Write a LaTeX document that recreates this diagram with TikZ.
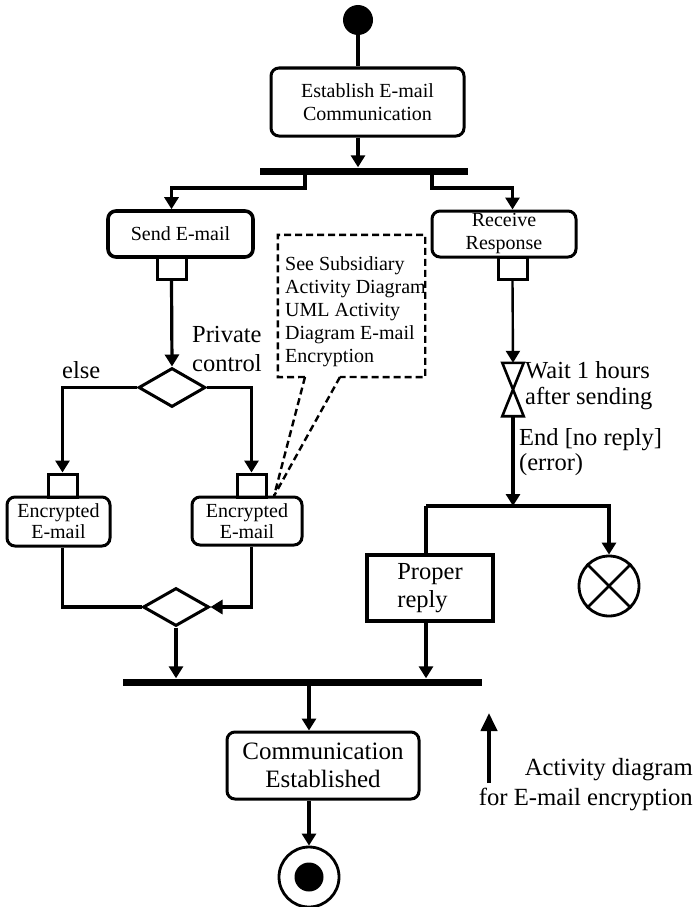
\documentclass[tikz,border=0pt]{standalone}
\usepackage{fontspec}
\setmainfont{Liberation Serif}
\usetikzlibrary{shapes.geometric,arrows.meta}
\begin{document}
\begin{tikzpicture}[x=1pt,y=-1pt,
  tip/.style={-{Triangle[width=14pt,length=12pt]}},
  flow/.style={line width=3.2pt,tip},
  plain/.style={line width=3.2pt},
  action/.style={draw,line width=3pt,rounded corners=8pt,inner sep=0pt},
  pinbox/.style={draw,line width=3pt,minimum width=29pt,minimum height=22pt,inner sep=0pt},
  bar/.style={fill=black,inner sep=0pt,minimum height=7pt},
  txtS/.style={font=\fontsize{20}{23}\selectfont},
  txtB/.style={font=\fontsize{24.5}{28}\selectfont},
  decision/.style={draw,diamond,line width=3pt,minimum width=67pt,minimum height=39pt,inner sep=0pt},
  notedash/.style={line width=2.4pt,dash pattern=on 7pt off 4pt}
]
\useasboundingbox (0,0) rectangle (696,907);

% initial node and first action
\node[fill,circle,minimum size=30pt,inner sep=0pt] (init) at (358,20) {};
\node[action,minimum width=193pt,minimum height=68pt,txtS,align=center] (est) at (367.5,102) {Establish E-mail\\Communication};
\node[bar,minimum width=208pt] (fork) at (364,171) {};
\coordinate (forkL) at (305,171);
\coordinate (forkR) at (432,171);

% sending branch
\node[action,line width=3.6pt,minimum width=145pt,minimum height=46pt,txtS] (send) at (180.5,234) {Send E-mail};
\node[pinbox] (spin) at (171.5,268) {};
\node[decision] (dec) at (172,387.5) {};
\node[pinbox,minimum height=23pt] (lpin) at (62.5,485.5) {};
\node[pinbox,minimum height=23pt] (mpin) at (251.5,485.5) {};
\node[action,minimum width=103pt,minimum height=49pt,align=center,font=\fontsize{20}{21}\selectfont] (lenc) at (58.5,521.5) {Encrypted\\E-mail};
\node[action,minimum width=110pt,minimum height=48pt,align=center,font=\fontsize{20}{21}\selectfont] (renc) at (247,521) {Encrypted\\E-mail};
\node[decision,minimum width=66pt,minimum height=38pt] (merge) at (176,607) {};

% receiving branch
\node[action,minimum width=144pt,minimum height=46pt,txtS,align=center] (recv) at (504,234) {Receive\\Response};
\node[pinbox] (rpin) at (512.5,268) {};
\node[minimum width=21pt,minimum height=53pt,inner sep=0pt] (wait) at (513,389.5) {};
\draw[line width=2.6pt] (wait.north west) -- (wait.north east) -- (wait.south west) -- (wait.south east) -- cycle;
\coordinate (split) at (513,506);
\coordinate (splitL) at (426,506);
\node[draw,line width=3.2pt,minimum width=126pt,minimum height=66pt,txtB,align=left] (proper) at (430,588) {Proper\\reply};
\node[circle,draw,line width=2.8pt,minimum size=60pt,inner sep=0pt] (ff) at (609,586) {};
\draw[line width=2.8pt] (ff.45) -- (ff.225) (ff.135) -- (ff.315);

% join and end
\node[bar,minimum width=359pt] (join) at (302.5,682) {};
\node[action,minimum width=192pt,minimum height=67pt,align=center,font=\fontsize{25}{28}\selectfont] (comm) at (323,765.5) {Communication\\Established};
\node[circle,draw,line width=2.8pt,minimum size=60pt,inner sep=0pt] (fin) at (309,877) {};
\node[circle,fill,minimum size=29pt,inner sep=0pt] (finin) at (fin) {};

% note
\node[minimum width=147pt,minimum height=142pt,inner sep=0pt] (note) at (351.5,306) {};
\node[anchor=north west,inner sep=0pt,align=left,txtS] (notetext) at (285,256) {See Subsidiary\\Activity Diagram\\UML Activity\\Diagram E-mail\\Encryption};
\coordinate (gapL) at (305,377);
\coordinate (gapR) at (340,377);
\coordinate (anch) at (274,496);
\draw[notedash] (gapL) -- (note.south west) -- (note.north west) -- (note.north east) -- (note.south east) -- (gapR);
\draw[notedash] (gapL) -- (anch) (gapR) -- (anch);

% labels
\node[anchor=north west,inner sep=0pt,align=left,font=\fontsize{24.5}{29}\selectfont] (priv) at (192,326) {Private\\control};
\node[anchor=base west,inner sep=0pt,txtB] (elselbl) at (62,378) {else};
\node[anchor=north west,inner sep=0pt,align=left,font=\fontsize{24.5}{26}\selectfont] (waitlbl) at (525,361) {Wait 1 hours\\after sending};
\node[anchor=north west,inner sep=0pt,align=left,font=\fontsize{24.5}{25}\selectfont] (endlbl) at (519,428) {End [no reply]\\(error)};
\node[anchor=north east,inner sep=0pt,align=right,font=\fontsize{24.7}{30}\selectfont] (caption) at (693,758) {Activity diagram\\for E-mail encryption};
\coordinate (upS) at (489,783);
\coordinate (upE) at (489,713);

% connectors
\draw[plain] (init) -- (init |- est.north);
\draw[flow] (est.south -| init) -- (init |- fork.north);
\draw[flow] (forkL) -- ++(0,17) -| (send.north -| spin);
\draw[flow] (forkR) -- ++(0,17) -| (recv.north -| rpin);
\draw[flow] (spin.south) -- (dec.north);
\draw[flow,line width=2.4pt] (rpin.south) -- (wait.north);
\draw[flow] (dec.west) -| (lpin.north);
\draw[flow] (dec.east) -| (mpin.north);
\draw[plain] (lenc.south -| lpin) |- (merge.west);
\draw[flow] (renc.south -| mpin) |- (merge.east);
\draw[flow] (merge.south) -- (merge.south |- join.north);
\draw[flow,line width=4pt] (wait.south) -- (split);
\draw[plain,line width=3.8pt] (splitL) -- (split);
\draw[flow,line width=3.8pt] (split) -| (ff.north);
\draw[plain,line width=3.8pt] (splitL) -- (splitL |- proper.north);
\draw[flow] (proper.south -| splitL) -- (splitL |- join.north);
\draw[flow] (join.south -| fin) -- (comm.north -| fin);
\draw[flow] (comm.south -| fin) -- (fin.north);
\draw[line width=4pt,-{Triangle[width=16pt,length=18pt]}] (upS) -- (upE);
\end{tikzpicture}
\end{document}
